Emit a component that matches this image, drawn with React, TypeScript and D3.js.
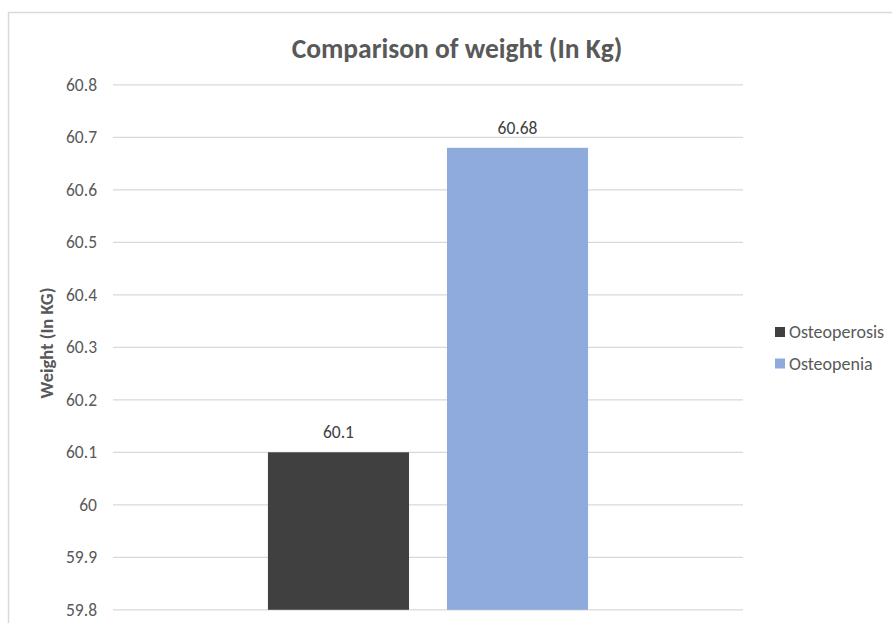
import React, { useRef, useEffect } from 'react';
import * as d3 from 'd3';

const categories = ['Weight'];
const seriesNames = ['Osteoperosis', 'Osteopenia'];
const seriesValues = [60.1, 60.68];
const seriesColors = ['#404040', '#8faadc'];
const yTicks = [59.8, 59.9, 60, 60.1, 60.2, 60.3, 60.4, 60.5, 60.6, 60.7, 60.8];

const WIDTH = 892;
const HEIGHT = 623;
const FONT = 'Carlito, Calibri, Lato, sans-serif';
const TEXT = '#595959';
const GRID = '#d9d9d9';

const App: React.FC = () => {
    const svgRef = useRef<SVGSVGElement>(null);

    useEffect(() => {
        if (!svgRef.current) return;
        const svg = d3.select(svgRef.current);
        svg.selectAll('*').remove();

        const plot = { left: 113, right: 743, top: 84.8, bottom: 609.8 };

        // chart frame (runs off the right and bottom edge)
        svg.append('rect')
            .attr('x', 8.5)
            .attr('y', 12.5)
            .attr('width', WIDTH)
            .attr('height', HEIGHT)
            .attr('fill', 'white')
            .attr('stroke', GRID)
            .attr('stroke-width', 1.5);

        const yScale = d3.scaleLinear()
            .domain([59.8, 60.8])
            .range([plot.bottom, plot.top]);

        const xScale = d3.scaleBand()
            .domain(categories)
            .range([plot.left, plot.right])
            .paddingInner(0)
            .paddingOuter(0.484);

        const xInner = d3.scaleBand()
            .domain(seriesNames)
            .range([0, xScale.bandwidth()])
            .paddingInner(0.212)
            .paddingOuter(0);

        // Grid lines
        svg.append('g')
            .selectAll('line')
            .data(yTicks)
            .enter()
            .append('line')
            .attr('x1', plot.left)
            .attr('x2', plot.right)
            .attr('y1', (d: number) => yScale(d))
            .attr('y2', (d: number) => yScale(d))
            .attr('stroke', GRID)
            .attr('stroke-width', 1.2);

        // Y tick labels
        svg.append('g')
            .selectAll('text')
            .data(yTicks)
            .enter()
            .append('text')
            .attr('x', 97)
            .attr('y', (d: number) => yScale(d))
            .attr('dy', '0.35em')
            .attr('text-anchor', 'end')
            .attr('font-family', FONT)
            .attr('font-size', '17.5px')
            .attr('fill', TEXT)
            .text((d: number) => d3.format('~g')(d));

        // Bars
        const bars = seriesNames.map((name, i) => ({ name, value: seriesValues[i], color: seriesColors[i] }));
        const g = svg.append('g').attr('transform', `translate(${xScale(categories[0])}, 0)`);

        g.selectAll('rect')
            .data(bars)
            .enter()
            .append('rect')
            .attr('x', d => xInner(d.name) as number)
            .attr('y', d => yScale(d.value))
            .attr('width', xInner.bandwidth())
            .attr('height', d => plot.bottom - yScale(d.value))
            .attr('fill', d => d.color);

        g.selectAll('text')
            .data(bars)
            .enter()
            .append('text')
            .attr('x', d => (xInner(d.name) as number) + xInner.bandwidth() / 2)
            .attr('y', d => yScale(d.value) - 14)
            .attr('text-anchor', 'middle')
            .attr('font-family', FONT)
            .attr('font-size', '17.5px')
            .attr('fill', '#404040')
            .text(d => String(d.value));

        // Title
        svg.append('text')
            .attr('x', 457)
            .attr('y', 58)
            .attr('text-anchor', 'middle')
            .attr('font-family', FONT)
            .attr('font-size', '27.5px')
            .attr('font-weight', 'bold')
            .attr('fill', TEXT)
            .text('Comparison of weight (In Kg)');

        // Y axis title
        svg.append('text')
            .attr('transform', `translate(53, 343) rotate(-90)`)
            .attr('text-anchor', 'middle')
            .attr('font-family', FONT)
            .attr('font-size', '18.5px')
            .attr('font-weight', 'bold')
            .attr('fill', TEXT)
            .text('Weight (In KG)');

        // Legend
        const legend = svg.append('g');
        bars.forEach((d, i) => {
            const cy = 332 + i * 31.5;
            legend.append('rect')
                .attr('x', 775)
                .attr('y', cy - 5)
                .attr('width', 10)
                .attr('height', 10)
                .attr('fill', d.color);
            legend.append('text')
                .attr('x', 789)
                .attr('y', cy)
                .attr('dy', '0.35em')
                .attr('font-family', FONT)
                .attr('font-size', '18px')
                .attr('fill', TEXT)
                .text(d.name);
        });
    }, []);

    return (
        <svg
            ref={svgRef}
            width={WIDTH}
            height={HEIGHT}
            style={{ position: 'absolute', left: 0, top: 0, background: 'white' }}
        />
    );
};

export default App;
